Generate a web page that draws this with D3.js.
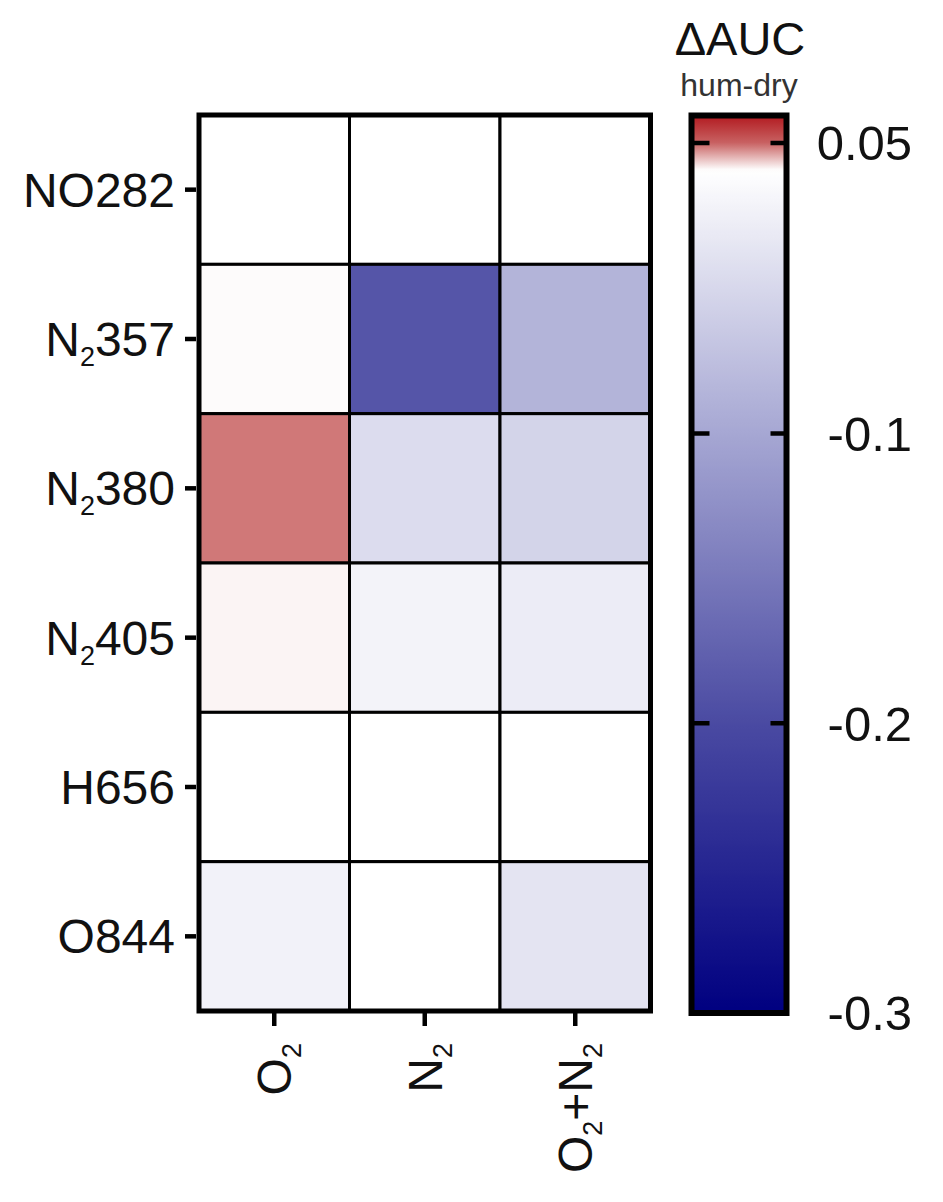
<!DOCTYPE html>
<html>
<head>
<meta charset="utf-8">
<script src="https://cdn.jsdelivr.net/npm/d3@7"></script>
<style>
  html, body { margin: 0; padding: 0; background: #fff; }
  svg { display: block; font-family: "Liberation Sans", Arial, sans-serif; }
</style>
</head>
<body>
<svg id="chart" width="943" height="1202"></svg>
<script>
// ---- data ----
const rowLabels = ["NO282", "N_2357", "N_2380", "N_2405", "H656", "O844"];
const colLabels = ["O_2", "N_2", "O_2+N_2"];
const o2Values   = [0.0355, 0.0364, 0.048, 0.037, 0.036, 0.016];
const n2Values   = [0.036, -0.188, -0.0175, 0.018, 0.0355, 0.036];
const o2n2Values = [0.0355, -0.080, -0.031, 0.007, 0.036, -0.005];
const colorbarTicks = [0.05, -0.1, -0.2, -0.3];
const colorStops = [-0.3, -0.2, -0.1, 0.036, 0.05, 0.06];
const colorRange = ["#000080", "#4a4aa2", "#a6a7d3", "#ffffff", "#c86262", "#b2191f"];

const seriesByCol = [o2Values, n2Values, o2n2Values];
const cells = [];
colLabels.forEach((c, ci) => rowLabels.forEach((r, ri) => cells.push({col: c, row: r, value: seriesByCol[ci][ri]})));

const svg = d3.select("#chart");
const color = d3.scaleLinear().domain(colorStops).range(colorRange).clamp(true);

const x = d3.scaleBand().domain(colLabels).range([199, 650.5]);
const y = d3.scaleBand().domain(rowLabels).range([115, 1011]);

function addSubText(textSel, label) {
  textSel.text(null);
  const parts = label.split(/_(\d)/);
  parts.forEach((p, i) => {
    if (p === "") return;
    if (i % 2 === 1) {
      textSel.append("tspan").attr("font-size", "27px").attr("dy", 10).text(p);
    } else {
      const t = textSel.append("tspan").text(p);
      if (i > 0) t.attr("dy", -10);
    }
  });
}

// cells
svg.append("g").selectAll("rect").data(cells).join("rect")
  .attr("x", d => x(d.col))
  .attr("y", d => y(d.row))
  .attr("width", x.bandwidth())
  .attr("height", y.bandwidth())
  .attr("fill", d => color(d.value))
  .attr("stroke", "#000")
  .attr("stroke-width", 3);

// outer border
svg.append("rect")
  .attr("x", x.range()[0]).attr("y", y.range()[0])
  .attr("width", x.range()[1] - x.range()[0])
  .attr("height", y.range()[1] - y.range()[0])
  .attr("fill", "none").attr("stroke", "#000").attr("stroke-width", 5);

// left axis
const yAxis = svg.append("g").attr("transform", "translate(196,0)")
  .call(d3.axisLeft(y).tickSize(11).tickPadding(10));
yAxis.select(".domain").remove();
yAxis.selectAll(".tick line").attr("stroke", "#000").attr("stroke-width", 4.5);
yAxis.selectAll(".tick text")
  .attr("font-size", "48px").attr("fill", "#111")
  .attr("font-family", "Liberation Sans, Arial, sans-serif")
  .attr("x", -21).attr("dy", "0.355em")
  .each(function(d) { addSubText(d3.select(this), d); });

// bottom axis
const xAxis = svg.append("g").attr("transform", "translate(0,1013)")
  .call(d3.axisBottom(x).tickSize(13));
xAxis.select(".domain").remove();
xAxis.selectAll(".tick line").attr("stroke", "#000").attr("stroke-width", 4.5);
xAxis.selectAll(".tick text")
  .attr("font-size", "48px").attr("fill", "#111")
  .attr("font-family", "Liberation Sans, Arial, sans-serif")
  .attr("transform", "rotate(-90)")
  .attr("text-anchor", "end")
  .attr("x", -30).attr("y", 17).attr("dy", null)
  .each(function(d) { addSubText(d3.select(this), d); });

// colorbar
const cbX0 = 691.5, cbX1 = 786.5;
const cbY = d3.scaleLinear().domain([-0.3, -0.1, 0.05, 0.06]).range([1013, 433.5, 143, 115.5]);
const defs = svg.append("defs");
const grad = defs.append("linearGradient").attr("id", "cbgrad")
  .attr("x1", 0).attr("y1", 1).attr("x2", 0).attr("y2", 0);
const yTop = cbY(0.06), yBot = cbY(-0.3);
d3.range(0, 1.0001, 0.005).forEach(t => {
  const py = yBot + (yTop - yBot) * t;
  grad.append("stop").attr("offset", t).attr("stop-color", color(cbY.invert(py)));
});
svg.append("rect")
  .attr("x", cbX0).attr("y", yTop)
  .attr("width", cbX1 - cbX0).attr("height", yBot - yTop)
  .attr("fill", "url(#cbgrad)")
  .attr("stroke", "#000").attr("stroke-width", 6);

const inner = colorbarTicks.filter(v => v > -0.3);
svg.append("g").selectAll("line.l").data(inner).join("line")
  .attr("x1", cbX0).attr("x2", cbX0 + 18)
  .attr("y1", d => cbY(d)).attr("y2", d => cbY(d))
  .attr("stroke", "#000").attr("stroke-width", 4.5);
svg.append("g").selectAll("line.r").data(inner).join("line")
  .attr("x1", cbX1).attr("x2", cbX1 - 16)
  .attr("y1", d => cbY(d)).attr("y2", d => cbY(d))
  .attr("stroke", "#000").attr("stroke-width", 4.5);
svg.append("g").selectAll("text").data(colorbarTicks).join("text")
  .attr("x", 912).attr("y", d => cbY(d)).attr("dy", "0.355em")
  .attr("text-anchor", "end").attr("font-size", "49px").attr("fill", "#111")
  .text(d => String(d));

// titles
svg.append("text").attr("x", 740).attr("y", 55).attr("text-anchor", "middle")
  .attr("font-size", "47px").attr("fill", "#111").text("ΔAUC");
svg.append("text").attr("x", 739).attr("y", 96).attr("text-anchor", "middle")
  .attr("font-size", "32px").attr("fill", "#333").text("hum-dry");
</script>
</body>
</html>
